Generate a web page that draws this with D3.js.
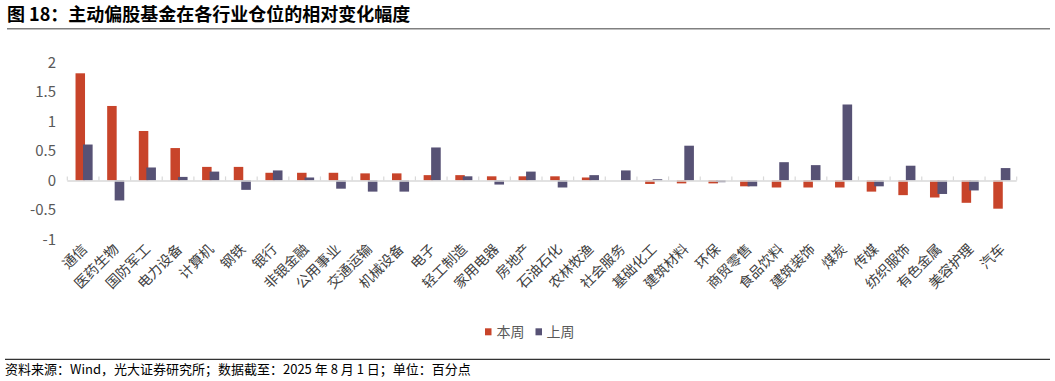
<!DOCTYPE html>
<html><head><meta charset="utf-8">
<script src="https://cdn.jsdelivr.net/npm/d3@7"></script>
<style>
html,body{margin:0;padding:0;background:#fff;}
svg{display:block;font-family:"Noto Sans CJK SC","Noto Sans",sans-serif;}
</style></head>
<body><svg id="c" width="1055" height="381"></svg>
<script>
const categories = ["通信","医药生物","国防军工","电力设备","计算机","钢铁","银行","非银金融","公用事业","交通运输","机械设备","电子","轻工制造","家用电器","房地产","石油石化","农林牧渔","社会服务","基础化工","建筑材料","环保","商贸零售","食品饮料","建筑装饰","煤炭","传媒","纺织服饰","有色金属","美容护理","汽车"];
const thisWeek = [1.82,1.265,0.84,0.55,0.23,0.23,0.13,0.13,0.13,0.12,0.12,0.09,0.09,0.07,0.07,0.07,0.05,0.0,-0.06,-0.05,-0.05,-0.1,-0.12,-0.12,-0.12,-0.19,-0.25,-0.29,-0.38,-0.48];
const lastWeek = [0.61,-0.34,0.22,0.06,0.15,-0.16,0.17,0.05,-0.14,-0.19,-0.19,0.56,0.07,-0.07,0.15,-0.12,0.09,0.17,0.02,0.59,-0.03,-0.1,0.31,0.26,1.29,-0.1,0.25,-0.23,-0.17,0.21];
const yTicks = [2,1.5,1,0.5,0,-0.5,-1];
const seriesNames = ["本周","上周"];
const colors = ["#C8442A","#575275"];

const svg = d3.select("#c");
// title
svg.append("text").attr("x",7).attr("y",21).attr("font-size",18).attr("font-weight","bold").attr("fill","#000")
  .text("图 18：主动偏股基金在各行业仓位的相对变化幅度");
svg.append("line").attr("x1",7).attr("x2",1050).attr("y1",28.8).attr("y2",28.8).attr("stroke","#808080").attr("stroke-width",1.6);

const y = d3.scaleLinear().domain([-1,2]).range([239.3,62.7]);
const x = d3.scaleBand().domain(categories).range([67.3,1016.7]).padding(0);
const bw = x.bandwidth();

// y labels
svg.append("g").selectAll("text").data(yTicks).join("text")
  .attr("x",56).attr("y",d=>y(d)).attr("dy","0.35em").attr("text-anchor","end")
  .attr("font-size",15).attr("fill","#595959").text(d=>d);

// bars
const g = svg.append("g");
categories.forEach((c,i)=>{
  const cx = x(c) + bw/2;
  const v1 = thisWeek[i], v2 = lastWeek[i];
  g.append("rect").attr("x",cx-7.6).attr("width",9.5)
    .attr("y",y(Math.max(0,v1))).attr("height",Math.abs(y(v1)-y(0)))
    .attr("fill",colors[0]);
  g.append("rect").attr("x",cx-0.1).attr("width",9.6)
    .attr("y",y(Math.max(0,v2))).attr("height",Math.abs(y(v2)-y(0)))
    .attr("fill",colors[1]);
});

// axis line and ticks
const y0 = y(0);
svg.append("line").attr("x1",67.3).attr("x2",1016.7).attr("y1",y0+0.5).attr("y2",y0+0.5).attr("stroke","#d9d9d9").attr("stroke-width",1.6);
svg.append("g").selectAll("line").data(categories.concat(["end"])).join("line")
  .attr("x1",(d,i)=>67.3+i*bw).attr("x2",(d,i)=>67.3+i*bw)
  .attr("y1",y0-4).attr("y2",y0).attr("stroke","#d9d9d9").attr("stroke-width",1.2);

// x labels
svg.append("g").selectAll("text").data(categories).join("text")
  .attr("transform",d=>`translate(${x(d)+bw/2+5},${250}) rotate(-45)`)
  .attr("text-anchor","end").attr("font-size",14).attr("fill","#404040").text(d=>d);

// legend
const lg = svg.append("g");
[[485,496.5,0],[535.5,546.5,1]].forEach(([sx,tx,k])=>{
  lg.append("rect").attr("x",sx).attr("y",328.3).attr("width",6.5).attr("height",7).attr("fill",colors[k]);
  lg.append("text").attr("x",tx).attr("y",332).attr("dy","0.35em").attr("font-size",14).attr("fill","#595959").text(seriesNames[k]);
});

// footer
svg.append("line").attr("x1",5).attr("x2",1050).attr("y1",359.3).attr("y2",359.3).attr("stroke","#333").attr("stroke-width",1.2);
svg.append("text").attr("x",5).attr("y",373.5).attr("font-size",13).attr("fill","#000")
  .text("资料来源：Wind，光大证券研究所；数据截至：2025 年 8 月 1 日；单位：百分点");
</script></body></html>
